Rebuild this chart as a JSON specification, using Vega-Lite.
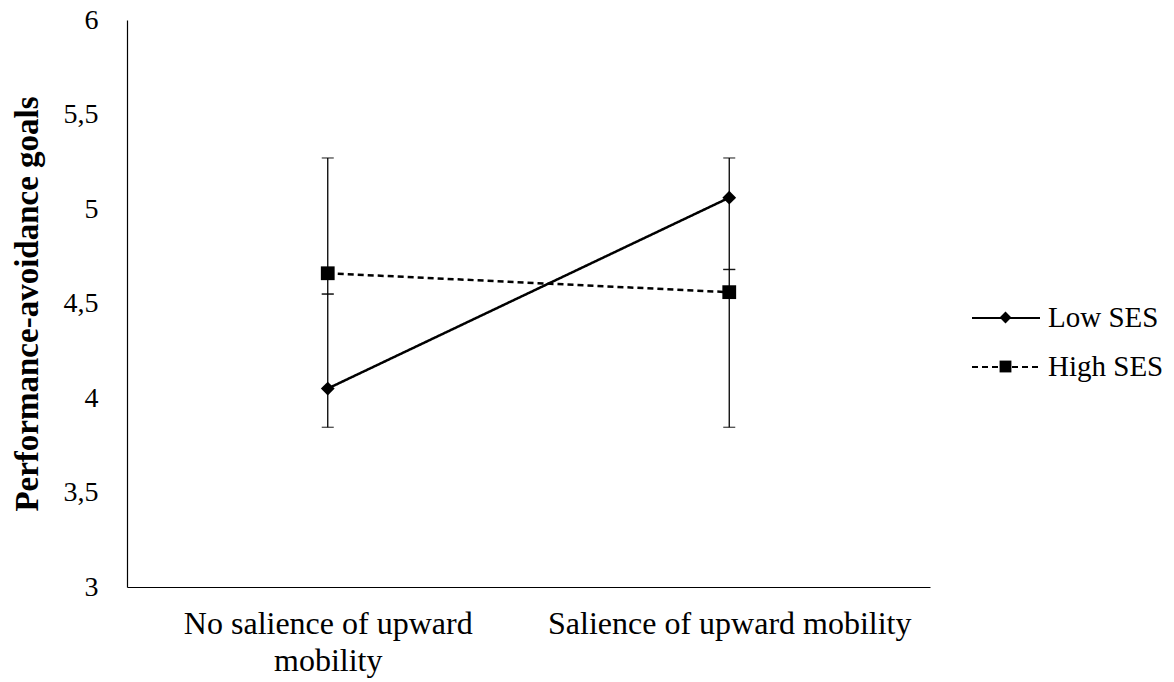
{
  "$schema": "https://vega.github.io/schema/vega-lite/v6.json",
  "width": 803,
  "height": 567,
  "autosize": "none",
  "padding": {"left": 127, "top": 20, "right": 244, "bottom": 95},
  "background": "white",
  "config": {
    "font": "Liberation Serif",
    "view": {"stroke": null},
    "axis": {"labelFont": "Liberation Serif", "titleFont": "Liberation Serif", "labelColor": "black", "titleColor": "black", "domainColor": "black", "domainWidth": 1.2, "grid": false, "ticks": false}
  },
  "data": {
    "values": [
      {"condition": "No salience of upward mobility", "ses": "Low SES", "mean": 4.05, "lo": 3.845, "hi": 4.55},
      {"condition": "No salience of upward mobility", "ses": "High SES", "mean": 4.66, "lo": 4.55, "hi": 5.27},
      {"condition": "Salience of upward mobility", "ses": "Low SES", "mean": 5.06, "lo": 4.68, "hi": 5.27},
      {"condition": "Salience of upward mobility", "ses": "High SES", "mean": 4.56, "lo": 3.845, "hi": 4.68}
    ]
  },
  "encoding": {
    "x": {
      "field": "condition",
      "type": "nominal",
      "scale": {"type": "point", "padding": 0.5},
      "sort": ["No salience of upward mobility", "Salience of upward mobility"],
      "axis": {
        "title": null,
        "labelAngle": 0,
        "labelFontSize": 32,
        "labelPadding": 21,
        "labelLineHeight": 37,
        "labelLimit": 1000,
        "labelBaseline": "top",
        "labelExpr": "datum.value == 'No salience of upward mobility' ? ['No salience of upward', 'mobility'] : datum.value"
      }
    }
  },
  "layer": [
    {
      "mark": {"type": "rule", "color": "black", "strokeWidth": 1.3},
      "encoding": {
        "y": {"field": "lo", "type": "quantitative"},
        "y2": {"field": "hi"}
      }
    },
    {
      "mark": {"type": "tick", "color": "black", "thickness": 1.3, "size": 12, "orient": "horizontal"},
      "encoding": {"y": {"field": "lo", "type": "quantitative"}}
    },
    {
      "mark": {"type": "tick", "color": "black", "thickness": 1.3, "size": 12, "orient": "horizontal"},
      "encoding": {"y": {"field": "hi", "type": "quantitative"}}
    },
    {
      "mark": {"type": "line", "color": "black", "strokeWidth": 2.5},
      "encoding": {
        "y": {
          "field": "mean",
          "type": "quantitative",
          "scale": {"domain": [3, 6], "nice": false, "zero": false},
          "axis": {
            "title": "Performance-avoidance goals",
            "titleFontSize": 33,
            "titleFontWeight": "bold",
            "titlePadding": 19,
            "values": [3, 3.5, 4, 4.5, 5, 5.5, 6],
            "labelFontSize": 28,
            "labelPadding": 29,
            "labelExpr": "replace(toString(datum.value), '.', ',')"
          }
        },
        "strokeDash": {
          "field": "ses",
          "type": "nominal",
          "scale": {"domain": ["Low SES", "High SES"], "range": [[1, 0], [6, 4]]},
          "legend": {
            "title": null,
            "orient": "none",
            "legendX": 844,
            "legendY": 283,
            "padding": 0,
            "symbolSize": 4624,
            "clipHeight": 30,
            "symbolStrokeWidth": 2,
            "symbolStrokeColor": "black",
            "labelFontSize": 29,
            "labelFont": "Liberation Serif",
            "labelColor": "black",
            "labelOffset": 7,
            "rowPadding": 19
          }
        }
      }
    },
    {
      "mark": {"type": "point", "size": 190, "filled": true, "color": "black", "opacity": 1},
      "encoding": {
        "y": {"field": "mean", "type": "quantitative"},
        "shape": {
          "field": "ses",
          "type": "nominal",
          "sort": ["Low SES", "High SES"],
          "scale": {"range": ["diamond", "square"]},
          "legend": {
            "title": null,
            "orient": "none",
            "legendX": 864,
            "legendY": 283,
            "padding": 0,
            "symbolSize": 140,
            "symbolFillColor": "black",
            "symbolStrokeWidth": 0,
            "labelFontSize": 29,
            "labelFont": "Liberation Serif",
            "labelColor": "transparent",
            "labelOffset": 7,
            "rowPadding": 19
          }
        }
      }
    }
  ]
}
